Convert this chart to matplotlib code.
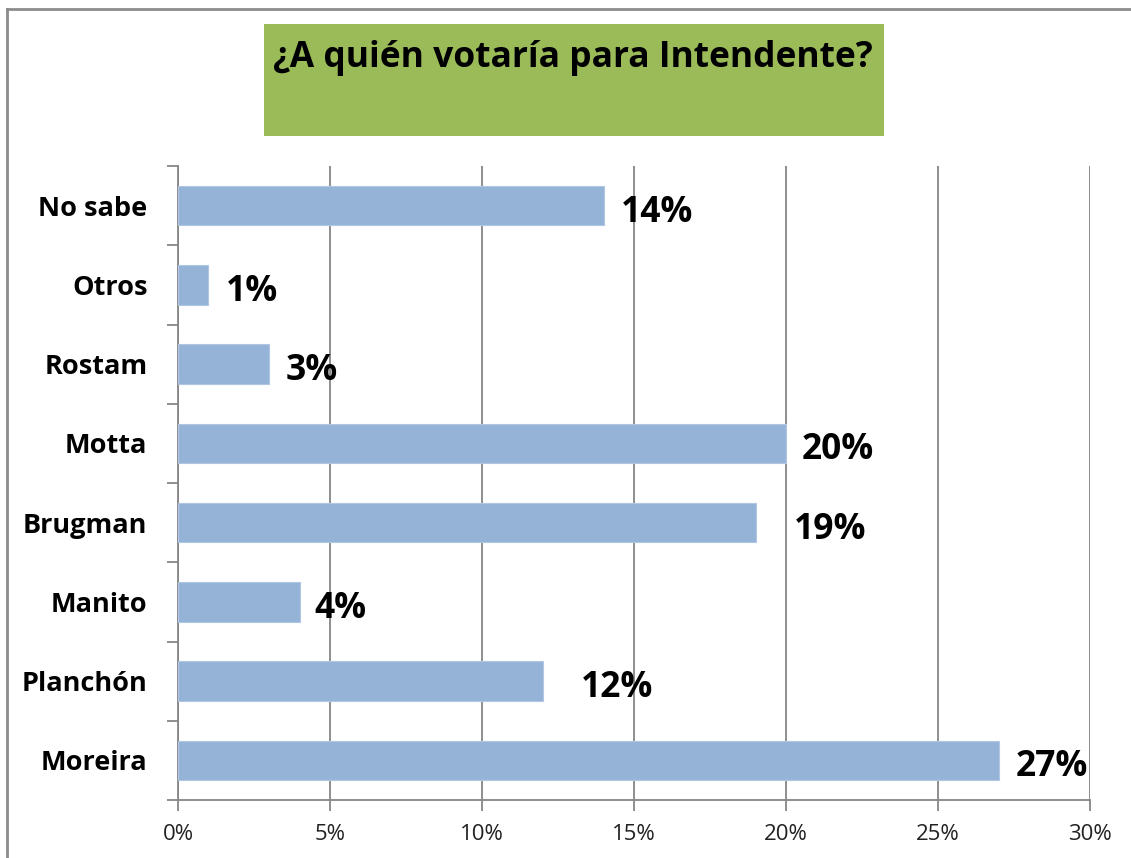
import matplotlib

matplotlib.use("Agg")
import matplotlib.pyplot as plt
from matplotlib.patches import Rectangle
from matplotlib.lines import Line2D
from matplotlib.ticker import FixedLocator, PercentFormatter

# Data (bottom to top)
candidates = ["Moreira", "Planchón", "Manito", "Brugman", "Motta", "Rostam", "Otros", "No sabe"]
shares = [27, 12, 4, 19, 20, 3, 1, 14]
title = "¿A quién votaría para Intendente?"

# label nudges in pixels (Excel placed a couple of them further out)
label_dx = [17, 38, 15, 38, 16, 16, 17, 17]

BAR = "#95B3D7"
GRID = "#868686"
GREEN = "#9BBB59"

plt.rcParams["font.family"] = ["Open Sans", "DejaVu Sans"]

fig = plt.figure(figsize=(11.31, 8.58), dpi=100)
W, H = 1131, 858

# outer frame (top + left only are visible)
fig.add_artist(Line2D([7 / W, 1], [1 - 9 / H] * 2, color="#8C8C8C", lw=2))
fig.add_artist(Line2D([7 / W] * 2, [0, 1 - 9 / H], color="#8C8C8C", lw=2))

# title box
fig.add_artist(Rectangle((264 / W, 1 - 136 / H), 620 / W, 112 / H,
                         facecolor=GREEN, edgecolor="none"))
fig.text(573 / W, 1 - 58 / H, title, ha="center", va="center",
         fontsize=25.5, fontweight="bold", color="black")

ax = fig.add_axes([178 / W, 1 - 800 / H, 912 / W, 634 / H])
y = list(range(len(candidates)))
ax.barh(y, shares, height=0.5, color=BAR, edgecolor="#B0C6E2", linewidth=0.8, zorder=3)

ax.set_xlim(0, 30)
ax.set_ylim(-0.5, len(candidates) - 0.5)
ax.set_xticks(range(0, 31, 5))
ax.xaxis.set_major_formatter(PercentFormatter(decimals=0))
ax.grid(axis="x", color=GRID, lw=1.3, zorder=0)

# category labels centred, ticks on the boundaries
ax.yaxis.set_major_locator(FixedLocator([i - 0.5 for i in range(len(candidates) + 1)]))
ax.yaxis.set_major_formatter(plt.NullFormatter())
ax.yaxis.set_minor_locator(FixedLocator(y))
ax.set_yticklabels(candidates, minor=True, fontsize=19.5, fontweight="bold")
ax.tick_params(axis="y", which="minor", length=0, pad=22)
ax.tick_params(axis="y", which="major", length=8, width=1.3, color=GRID)
ax.tick_params(axis="x", length=8, width=1.3, color=GRID, labelsize=16, pad=9,
               labelcolor="#222222")

for side in ("top", "right"):
    ax.spines[side].set_visible(False)
for side in ("left", "bottom"):
    ax.spines[side].set_color(GRID)
    ax.spines[side].set_linewidth(1.3)

for yi, v, dx in zip(y, shares, label_dx):
    ax.annotate(f"{v}%", (v, yi), xytext=(dx * 0.72, -5), textcoords="offset points",
                ha="left", va="center", fontsize=25.5, fontweight="bold", zorder=4)

fig.savefig("out.png", dpi=100)
